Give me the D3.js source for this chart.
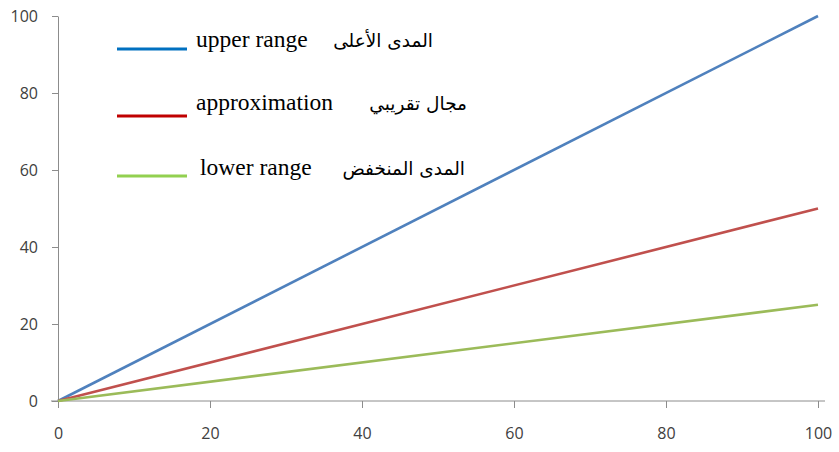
<!DOCTYPE html>
<html>
<head>
<meta charset="utf-8">
<script src="https://cdn.jsdelivr.net/npm/d3@7"></script>
<style>
  html, body { margin: 0; padding: 0; background: #fff; }
  svg { display: block; }
  .axis text { font-family: "Open Sans", "Liberation Sans", sans-serif; font-size: 16px; fill: #404040; }
  .axis path, .axis line { stroke: #8c8c8c; stroke-width: 1; }
  .legend text { font-family: "Liberation Serif", "DejaVu Serif", serif; font-size: 23.5px; fill: #000; }
  .legend text.ar { font-family: "DejaVu Sans", sans-serif; font-size: 18.5px; }
</style>
</head>
<body>
<svg id="chart" width="839" height="452"></svg>
<script>
// x positions and series values
const xValues = [0, 100];
const upperRange = [0, 100];
const approximation = [0, 50];
const lowerRange = [0, 25];

const xTicks = [0, 20, 40, 60, 80, 100];
const yTicks = [0, 20, 40, 60, 80, 100];

const seriesNames = ["upper range", "approximation", "lower range"];
const seriesArabic = ["المدى الأعلى", "مجال تقريبي", "المدى المنخفض"];

const lineColors = ["#4F81BD", "#C0504D", "#9BBB59"];
const legendColors = ["#0070C0", "#C00000", "#92D050"];

const svg = d3.select("#chart");
const margin = { left: 58, right: 21, top: 16, bottom: 51 };
const W = 839, H = 452;

const x = d3.scaleLinear().domain([0, 100]).range([margin.left, W - margin.right]);
const y = d3.scaleLinear().domain([0, 100]).range([H - margin.bottom, margin.top]);

// y axis
svg.append("g")
  .attr("class", "axis")
  .attr("transform", `translate(${margin.left},0)`)
  .call(d3.axisLeft(y).tickValues(yTicks).tickSize(6).tickSizeOuter(0).tickPadding(14));

// x axis
const xAxis = svg.append("g")
  .attr("class", "axis")
  .attr("transform", `translate(0,${y(0)})`)
  .call(d3.axisBottom(x).tickValues(xTicks).tickSize(7).tickSizeOuter(0).tickPadding(20));
// extend the baseline slightly beyond both ends
xAxis.select(".domain").attr("d", `M${x(0) - 7},0H${x(100) + 7}`);

// series lines
const series = [upperRange, approximation, lowerRange];
const line = d3.line().x((d, i) => x(xValues[i])).y(d => y(d));
series.forEach((vals, k) => {
  svg.append("path")
    .datum(vals)
    .attr("fill", "none")
    .attr("stroke", lineColors[k])
    .attr("stroke-width", 2.6)
    .attr("d", line);
});

// legend
const legend = svg.append("g").attr("class", "legend");
const legendRows = [
  { ly: 49, ty: 47, tx: 196, ax: 433 },
  { ly: 116, ty: 110, tx: 196, ax: 467 },
  { ly: 176, ty: 175, tx: 200, ax: 465 }
];
legendRows.forEach((r, k) => {
  legend.append("line")
    .attr("x1", 117).attr("x2", 187)
    .attr("y1", r.ly).attr("y2", r.ly)
    .attr("stroke", legendColors[k]).attr("stroke-width", 3);
  legend.append("text")
    .attr("x", r.tx).attr("y", r.ty)
    .text(seriesNames[k]);
  legend.append("text")
    .attr("class", "ar")
    .attr("x", r.ax).attr("y", r.ty)
    .attr("text-anchor", "end")
    .text(seriesArabic[k]);
});
</script>
</body>
</html>
